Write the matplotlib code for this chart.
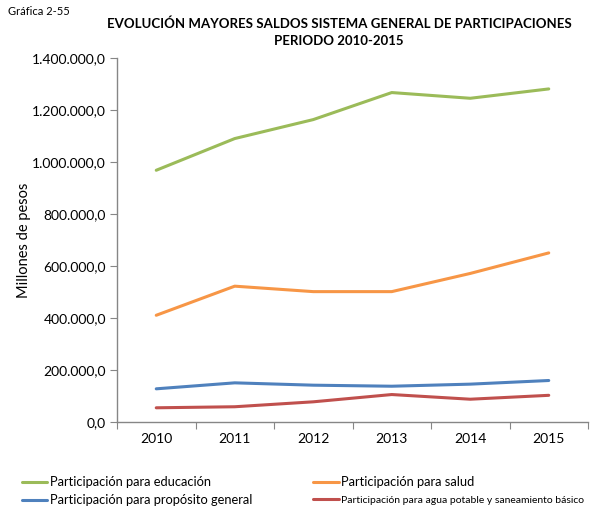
import numpy as np
import matplotlib
matplotlib.use('Agg')
import matplotlib.pyplot as plt
from matplotlib.ticker import FuncFormatter, FixedLocator

plt.rcParams['font.family'] = ['Lato', 'DejaVu Sans']

# Saldos SGP, millones de pesos
years = ['2010', '2011', '2012', '2013', '2014', '2015']
educacion = [969000, 1091000, 1164000, 1268000, 1246000, 1282000]
salud = [411000, 523000, 502000, 502000, 572000, 651000]
proposito = [128000, 151000, 142000, 138000, 146000, 160000]
agua = [55000, 59000, 78000, 106000, 88000, 103000]

names = ['Participación para educación', 'Participación para salud',
         'Participación para propósito general',
         'Participación para agua potable y saneamiento básico']
colors = ['#9BBB59', '#F79646', '#4F81BD', '#C0504D']

fig = plt.figure(figsize=(6.0, 5.11), dpi=100)
ax = fig.add_axes([0.195, 0.174, 0.785, 0.712])

x = np.arange(len(years))
lines = []
for vals, c, n in zip([educacion, salud, proposito, agua], colors, names):
    l, = ax.plot(x, vals, color=c, lw=2.2, label=n, solid_capstyle='round')
    lines.append(l)

ax.set_ylim(0, 1400000)
ax.set_yticks(np.arange(0, 1400001, 200000))

def fmt(v, pos):
    s = '{:,.1f}'.format(v)
    return s.replace(',', 'X').replace('.', ',').replace('X', '.')

ax.yaxis.set_major_formatter(FuncFormatter(fmt))
ax.set_xlim(-0.5, len(years) - 0.5)
ax.xaxis.set_major_locator(FixedLocator(np.arange(-0.5, len(years), 1.0)))
ax.xaxis.set_minor_locator(FixedLocator(x))
ax.set_xticklabels([''] * 7)
ax.set_xticklabels(years, minor=True)
ax.tick_params(axis='x', which='minor', length=0, pad=8, labelsize=10)
ax.tick_params(axis='x', which='major', length=5, color='#868686')
ax.tick_params(axis='y', length=5, color='#868686', labelsize=10, pad=3)

for s in ['top', 'right']:
    ax.spines[s].set_visible(False)
for s in ['left', 'bottom']:
    ax.spines[s].set_color('#868686')
    ax.spines[s].set_linewidth(1.0)

ax.set_ylabel('Millones de pesos', fontsize=10.5, labelpad=1)

fig.text(0.013, 0.988, 'Gráfica 2-55', fontsize=8, va='top', ha='left')
fig.text(0.565, 0.965, 'EVOLUCIÓN MAYORES SALDOS SISTEMA GENERAL DE PARTICIPACIONES\nPERIODO 2010-2015',
         fontsize=9.5, fontweight='bold', ha='center', va='top', linespacing=1.45)

order = [0, 2, 1, 3]
leg = fig.legend([lines[i] for i in order], [names[i] for i in order],
                 ncol=2, loc='upper left', bbox_to_anchor=(0.028, 0.078),
                 frameon=False, fontsize=9.3, handlelength=1.95, handletextpad=0.2,
                 columnspacing=4.75, labelspacing=0.45, borderaxespad=0)
leg.get_texts()[3].set_fontsize(7.5)

fig.savefig('out.png', dpi=100)
